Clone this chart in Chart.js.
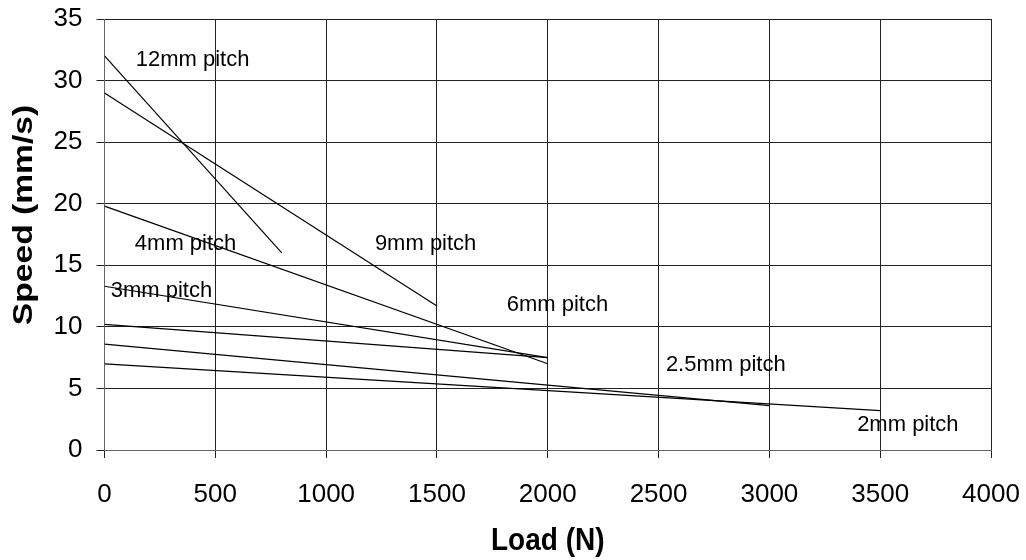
<!DOCTYPE html>
<html><head><meta charset="utf-8">
<script src="https://cdn.jsdelivr.net/npm/chart.js@4"></script>
<style>html,body{margin:0;padding:0;background:#fff}#wrap{width:1026px;height:560px}</style>
</head><body><div id="wrap"><canvas id="c" width="1026" height="560"></canvas></div>
<script>
// Data
const pitchNames = ['12mm pitch', '9mm pitch', '6mm pitch', '4mm pitch', '3mm pitch', '2.5mm pitch', '2mm pitch'];
const loadStart = [0, 0, 0, 0, 0, 0, 0];
const speedStart = [32, 29, 19.8, 13.3, 10.2, 8.6, 7.0];
const loadEnd = [800, 1500, 2000, 2000, 2000, 3000, 3500];
const speedEnd = [16, 11.7, 7.0, 7.5, 7.5, 3.6, 3.2];
const xTicks = [0, 500, 1000, 1500, 2000, 2500, 3000, 3500, 4000];
const yTicks = [0, 5, 10, 15, 20, 25, 30, 35];
// Free-floating labels (in data coordinates)
const noteText = ['12mm pitch', '9mm pitch', '4mm pitch', '3mm pitch', '6mm pitch', '2.5mm pitch', '2mm pitch'];
const noteLoad = [141, 1220, 137, 28, 1815, 2533, 3396];
const noteSpeed = [31.7, 16.7, 16.7, 12.9, 11.8, 6.9, 2.0];
const xTitle = 'Load (N)';
const yTitle = 'Speed (mm/s)';

const FONT = '"Liberation Sans", Arial, sans-serif';

const datasets = pitchNames.map((n, i) => ({
  label: n,
  data: [{x: loadStart[i], y: speedStart[i]}, {x: loadEnd[i], y: speedEnd[i]}],
  showLine: true,
  borderColor: '#000',
  borderWidth: 1.2,
  pointRadius: 0,
  fill: false
}));

const notesPlugin = {
  id: 'notes',
  afterDatasetsDraw(chart) {
    const {ctx, scales, chartArea} = chart;
    ctx.save();
    ctx.font = '22px ' + FONT;
    ctx.fillStyle = '#000';
    ctx.textAlign = 'left';
    ctx.textBaseline = 'middle';
    noteText.forEach((t, i) => {
      ctx.fillText(t, scales.x.getPixelForValue(noteLoad[i]), scales.y.getPixelForValue(noteSpeed[i]));
    });
    ctx.restore();
  },
  afterDraw(chart) {
    const {ctx, chartArea} = chart;
    ctx.save();
    ctx.fillStyle = '#000';
    ctx.font = 'bold 28px ' + FONT;
    ctx.textAlign = 'center';
    ctx.textBaseline = 'middle';
    // x-axis title
    ctx.save();
    ctx.translate((chartArea.left + chartArea.right) / 2, 541);
    ctx.scale(1, 1.15);
    ctx.fillText(xTitle, 0, 0);
    ctx.restore();
    // y-axis title
    ctx.save();
    ctx.translate(24, 215);
    ctx.rotate(-Math.PI / 2);
    ctx.scale(1.2, 1);
    ctx.fillText(yTitle, 0, 0);
    ctx.restore();
    ctx.restore();
  }
};

new Chart(document.getElementById('c'), {
  type: 'scatter',
  data: {datasets},
  options: {
    responsive: false,
    animation: false,
    devicePixelRatio: 1,
    layout: {padding: {top: 19, right: 35, left: 0, bottom: 0}},
    plugins: {legend: {display: false}, tooltip: {enabled: false}},
    scales: {
      x: {
        type: 'linear', min: 0, max: 4000,
        afterBuildTicks: s => { s.ticks = xTicks.map(v => ({value: v})); },
        afterFit: s => { s.height = 110; s.paddingLeft = 0; s.paddingRight = 0; },
        ticks: {color: '#000', font: {size: 26, family: FONT}, padding: 21, maxRotation: 0, callback: v => String(v)},
        grid: {color: '#222', lineWidth: 1, tickLength: 8},
        border: {color: '#666', width: 1},
        title: {display: false}
      },
      y: {
        type: 'linear', min: 0, max: 35,
        afterBuildTicks: s => { s.ticks = yTicks.map(v => ({value: v})); },
        afterFit: s => { s.width = 104.5; s.paddingTop = 0; s.paddingBottom = 0; },
        ticks: {color: '#000', font: {size: 26, family: FONT}, padding: 14, callback: v => String(v)},
        grid: {color: '#222', lineWidth: 1, tickLength: 8},
        border: {color: '#666', width: 1},
        title: {display: false}
      }
    }
  },
  plugins: [notesPlugin]
});
</script>
</body></html>
